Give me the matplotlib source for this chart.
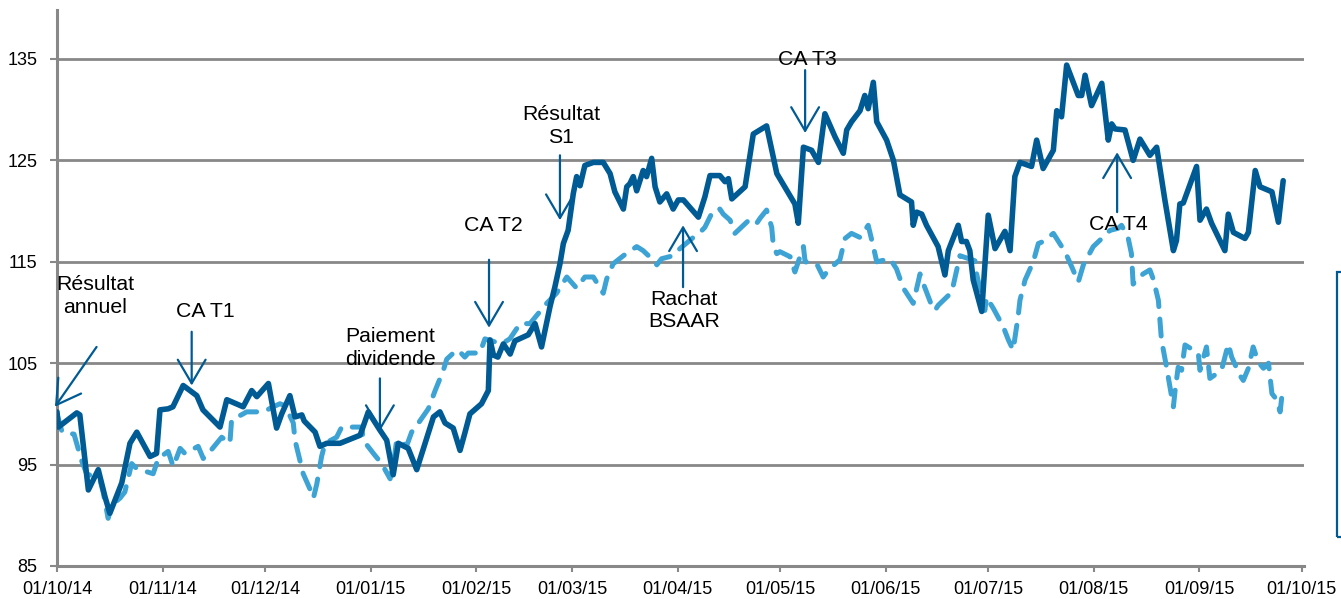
import matplotlib
matplotlib.use("Agg")
import matplotlib.pyplot as plt
import matplotlib.dates as mdates
import matplotlib.patches as mpatches
import pandas as pd
import numpy as np

plt.rcParams['font.family'] = ['Liberation Sans', 'DejaVu Sans']

START = pd.Timestamp('2014-10-01')

# Solid series (share price, base 100) : days since 01/10/14, values
solid_days = [0, 0.4, 5.8, 6.7, 9.2, 12.1, 14.1, 15.5, 19.0, 21.4, 23.4, 27.3, 29.2, 30.2, 32.6, 34.0,
              37.0, 39.0, 41.0, 42.8, 47.8, 49.8, 54.6, 57.1, 58.6, 62.0, 64.4, 65.9, 68.3, 69.8, 71.8,
              72.5, 75.7, 77.1, 79.1, 83.0, 88.9, 91.3, 94.7, 96.7, 98.6, 100.1, 103.0, 105.5, 110.4,
              112.3, 113.8, 116.2, 118.2, 119.6, 121.1, 124.5, 126.5, 127.0, 128.0, 129.3, 130.9, 132.9,
              134.3, 138.2, 140.2, 142.1, 144.6, 146.0, 147.5, 148.5, 149.9, 151.4, 152.4, 153.4, 154.8,
              157.3, 160.2, 162.2, 163.6, 166.1, 167.1, 168.0, 169.0, 170.0, 171.9, 172.9, 174.4, 175.4,
              176.8, 178.8, 180.7, 182.2, 183.7, 188.1, 190.0, 191.5, 194.4, 195.9, 196.9, 197.9, 201.8,
              204.2, 208.1, 211.1, 216.4, 217.4, 218.9, 221.3, 223.3, 225.2, 228.2, 230.6, 231.6, 233.0,
              235.5, 236.9, 237.9, 239.4, 240.4, 243.3, 245.3, 247.2, 250.6, 251.1, 252.1, 253.6, 255.0,
              258.4, 260.4, 261.4, 264.3, 265.3, 266.7, 267.7, 268.7, 271.2, 273.1, 275.1, 278.0, 279.5,
              280.9, 282.4, 285.8, 287.3, 289.2, 292.2, 293.2, 294.6, 296.1, 299.5, 300.5, 301.5, 303.4,
              306.4, 308.3, 309.3, 310.3, 313.2, 315.6, 317.6, 320.5, 322.5, 324.9, 327.4, 328.3, 329.3,
              330.3, 334.2, 335.2, 337.1, 338.6, 342.5, 343.5, 345.0, 348.4, 349.4, 351.4, 352.8, 356.3,
              358.2, 359.6]
solid_vals = [100.2, 98.7, 100.1, 99.9, 92.5, 94.5, 91.8, 90.2, 93.2, 97.1, 98.2, 95.8, 96.1, 100.4, 100.5, 100.7,
              102.8, 102.3, 101.8, 100.4, 98.7, 101.4, 100.7, 102.3, 101.7, 103.0, 98.6, 100.0, 101.8, 99.7, 99.9,
              99.3, 98.2, 96.8, 97.1, 97.1, 97.9, 100.2, 98.4, 97.4, 94.0, 97.1, 96.6, 94.5, 99.7,
              100.2, 99.1, 98.6, 96.4, 98.1, 100.0, 101.0, 102.3, 107.3, 105.8, 105.6, 106.9, 105.9,
              107.2, 107.8, 108.9, 106.6, 110.6, 112.5, 114.8, 116.8, 118.1, 121.7, 123.4, 122.5, 124.5,
              124.8, 124.8, 123.7, 121.9, 120.2, 122.4, 122.7, 123.4, 122.0, 124.0, 123.4, 125.2, 122.4,
              120.9, 121.7, 120.2, 121.1, 121.1, 119.4, 121.4, 123.5, 123.5, 122.9, 123.2, 121.2, 122.4,
              127.6, 128.4, 123.7, 120.7, 118.8, 126.3, 126.0, 124.8, 129.6, 127.3, 125.7, 128.0, 128.8,
              129.9, 131.4, 130.1, 132.7, 128.8, 127.0, 125.0, 121.6, 120.9, 118.6, 119.9, 119.7, 118.6,
              116.5, 113.7, 116.1, 118.6, 117.0, 117.0, 116.1, 113.2, 110.1, 119.6, 116.3, 118.0, 116.1,
              123.4, 124.8, 124.4, 127.0, 124.2, 126.0, 129.9, 129.3, 134.4, 131.4, 131.4, 133.4, 130.4,
              132.6, 127.0, 128.6, 128.1, 128.0, 125.0, 127.1, 125.5, 126.3, 121.1, 116.1, 117.1, 120.7,
              120.8, 124.4, 119.1, 120.2, 118.8, 116.1, 119.7, 117.9, 117.3, 117.9, 124.0, 122.4, 121.9,
              118.9, 123.0]

# Dashed series (index, base 100)
dashed_days = [0, 1.5, 5.0, 7.2, 8.7, 12.6, 13.6, 15.0, 16.0, 18.5, 19.9, 21.9, 23.4, 28.2, 29.7, 32.6,
               34.1, 36.1, 37.5, 41.4, 42.9, 44.4, 48.3, 50.7, 51.2, 54.6, 55.6, 60.5, 63.4, 65.4, 66.9,
               69.3, 69.8, 72.2, 74.7, 75.2, 76.2, 77.6, 78.6, 82.0, 83.5, 89.4, 89.8, 92.8, 95.2, 97.7,
               99.1, 99.6, 102.6, 104.0, 106.0, 108.9, 110.9, 113.3, 114.3, 117.2, 118.2, 119.6, 120.6,
               124.0, 125.5, 130.4, 132.8, 135.8, 138.7, 143.6, 146.5, 149.5, 152.4, 154.8, 157.3, 160.2,
               161.2, 163.1, 166.1, 170.0, 171.9, 174.4, 175.9, 177.3, 180.7, 182.7, 186.6, 188.6, 190.0,
               192.5, 194.4, 195.4, 197.4, 198.8, 203.2, 205.2, 206.2, 208.1, 209.6, 210.1, 211.1, 212.0,
               215.0, 216.4, 218.9, 219.4, 222.8, 224.7, 226.2, 229.6, 231.1, 233.0, 235.5, 237.9, 239.4,
               240.4, 244.3, 246.2, 248.2, 251.1, 253.1, 254.0, 256.5, 257.5, 258.4, 262.4, 264.8, 269.2,
               269.7, 272.1, 272.6, 274.6, 277.5, 279.0, 280.4, 281.9, 282.4, 283.9, 286.3, 287.8, 289.2,
               292.2, 295.6, 297.6, 299.5, 301.0, 303.9, 306.4, 308.8, 311.2, 312.2, 314.1, 315.1, 315.6,
               318.5, 320.5, 321.5, 323.0, 323.9, 325.4, 327.4, 327.9, 328.8, 329.8, 330.8, 334.7, 335.2,
               337.1, 338.1, 341.5, 343.5, 344.5, 346.9, 347.9, 349.4, 350.8, 352.3, 353.8, 355.3, 356.3,
               357.7, 358.7, 359.2]
dashed_vals = [100.0, 98.2, 98.0, 95.4, 94.1, 93.5, 92.2, 89.7, 91.0, 91.7, 92.3, 95.1, 94.6, 94.1, 95.6, 96.3,
               94.8, 96.6, 96.1, 96.8, 95.6, 96.1, 97.7, 97.1, 99.4, 100.0, 100.2, 100.2, 100.7, 101.0, 100.8,
               99.1, 97.4, 94.1, 92.2, 91.7, 93.1, 95.8, 97.1, 97.7, 98.7, 98.7, 97.4, 96.1, 95.1, 93.6,
               96.1, 97.4, 96.9, 98.2, 99.1, 100.5, 102.3, 104.3, 105.4, 106.3, 106.1, 105.6, 106.0,
               106.0, 107.4, 106.9, 107.4, 108.9, 108.9, 110.9, 111.9, 113.5, 112.4, 113.5, 113.5, 111.9,
               113.3, 114.8, 115.6, 116.5, 116.1, 115.3, 114.7, 115.3, 115.6, 116.3, 117.4, 117.9, 118.4,
               120.1, 120.2, 119.7, 119.1, 117.8, 119.2, 118.8, 119.3, 120.1, 118.4, 116.5, 115.8, 116.0,
               115.5, 114.0, 116.5, 115.0, 114.8, 113.5, 114.2, 115.2, 117.3, 117.8, 117.4, 118.6, 116.5,
               115.0, 115.3, 114.3, 112.4, 110.9, 113.8, 112.9, 110.7, 110.2, 110.7, 112.0, 115.6, 115.1,
               113.8, 110.2, 111.5, 110.4, 108.6, 107.3, 106.3, 109.7, 111.2, 113.2, 115.0, 116.8, 117.0,
               117.8, 116.0, 114.5, 113.0, 114.7, 116.5, 117.3, 118.1, 118.3, 118.6, 117.4, 115.8, 112.8,
               113.8, 114.2, 113.3, 111.2, 107.3, 104.6, 100.7, 102.3, 104.6, 104.3, 106.8, 106.0, 104.3,
               106.6, 103.5, 104.3, 106.9, 105.6, 103.8, 103.3, 104.5, 106.6, 105.1, 104.5, 105.0, 102.0,
               101.4, 100.2, 101.7]

# Event annotations: label, text position (day, value), arrow tail, arrow tip
events = [
    ("Résultat\nannuel",   (11.1, 111.6), (11.6, 106.6), (-0.6, 100.7)),
    ("CA T1",              (43.4, 110.1), (39.5, 108.1), (39.5, 102.8)),
    ("Paiement\ndividende", (97.7, 106.5), (94.7, 103.5), (94.7, 98.3)),
    ("CA T2",              (127.9, 118.6), (126.7, 115.2), (126.7, 108.5)),
    ("Résultat\nS1",       (147.8, 128.4), (147.5, 125.5), (147.5, 119.1)),
    ("Rachat\nBSAAR",      (183.9, 110.2), (183.6, 112.5), (183.6, 118.6)),
    ("CA T3",              (220.1, 134.9), (219.4, 133.9), (219.4, 127.7)),
    ("CA T4",              (311.4, 118.7), (310.9, 119.9), (310.9, 125.8)),
]

tick_dates = pd.date_range('2014-10-01', '2015-10-01', freq='MS')

def to_date(d):
    return START + pd.to_timedelta(np.asarray(d, dtype=float), unit='D')

SOLID = '#005B94'
DASHED = '#3DA3D5'
GRID = '#888888'

fig = plt.figure(figsize=(13.41, 5.99), dpi=100)
ax = fig.add_axes([0.0425, 0.0551, 0.9299, 0.9282])

ax.set_ylim(85, 139.83)
ax.set_xlim(START, START + pd.Timedelta(days=365.7))
ax.set_yticks([85, 95, 105, 115, 125, 135])
ax.set_xticks(tick_dates)
ax.xaxis.set_major_formatter(mdates.DateFormatter('%d/%m/%y'))
ax.yaxis.grid(True, color=GRID, lw=2)
ax.set_axisbelow(True)
for s in ['top', 'right']:
    ax.spines[s].set_visible(False)
for s in ['left', 'bottom']:
    ax.spines[s].set_color(GRID)
    ax.spines[s].set_linewidth(2.2)
ax.tick_params(axis='y', length=5, width=1.5, color=GRID, labelsize=13, pad=9)
ax.tick_params(axis='x', length=4, width=1.5, color=GRID, labelsize=13, pad=7)

ax.plot(to_date(dashed_days), dashed_vals, color=DASHED, lw=3.6,
        linestyle=(0, (3.4, 2.5)), dash_capstyle='round', solid_joinstyle='round', zorder=2)
ax.plot(to_date(solid_days), solid_vals, color=SOLID, lw=4.0,
        solid_joinstyle='round', solid_capstyle='round', zorder=3)

for label, tpos, tail, tip in events:
    ax.text(to_date(tpos[0]), tpos[1], label, ha='center', va='center', fontsize=15.3,
            color='black', linespacing=1.25, zorder=5)
    ax.annotate('', xy=(to_date(tip[0]), tip[1]), xytext=(to_date(tail[0]), tail[1]),
                arrowprops=dict(arrowstyle='->,head_length=0.85,head_width=0.5',
                                color=SOLID, lw=1.6, mutation_scale=20,
                                shrinkA=0, shrinkB=0),
                annotation_clip=False, zorder=6)

# partially visible legend frame at the right edge
fig.patches.append(mpatches.Rectangle((1337 / 1341, 1 - 537 / 599), 0.05, (537 - 272) / 599,
                                      transform=fig.transFigure, fill=False,
                                      edgecolor=SOLID, lw=1.6))

fig.savefig('out.png', dpi=100)
